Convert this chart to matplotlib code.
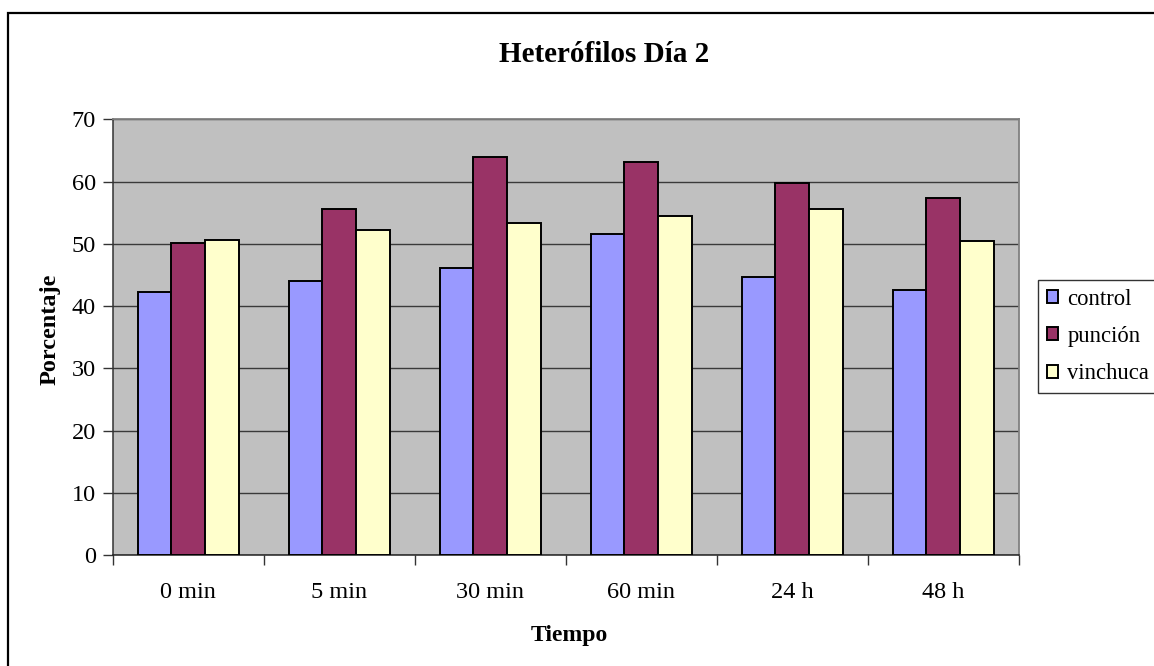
import numpy as np
import matplotlib
matplotlib.use("Agg")
import matplotlib.pyplot as plt
from matplotlib.patches import Rectangle

# Data
categories = ["0 min", "5 min", "30 min", "60 min", "24 h", "48 h"]
series_names = ["control", "punción", "vinchuca"]
control = [42.3, 44.0, 46.1, 51.6, 44.7, 42.6]
puncion = [50.1, 55.6, 64.0, 63.1, 59.7, 57.4]
vinchuca = [50.7, 52.2, 53.3, 54.5, 55.6, 50.4]
y_ticks = [0, 10, 20, 30, 40, 50, 60, 70]

colors = ["#9999FF", "#993366", "#FFFFCC"]

plt.rcParams["font.family"] = ["Liberation Serif", "DejaVu Serif"]

W, H = 1154, 666
fig = plt.figure(figsize=(W / 100, H / 100), dpi=100)
fig.patch.set_facecolor("white")

# Chart-area border (extends off the right and bottom edges)
fig.patches.append(Rectangle((8 / W, -0.1), 1.2, (H - 12.5) / H + 0.1,
                             transform=fig.transFigure, fill=False,
                             edgecolor="#000000", linewidth=1.6, zorder=0))

ax_l, ax_r, ax_t, ax_b = 112.7, 1018.7, 119.3, 555.3
ax = fig.add_axes([ax_l / W, 1 - ax_b / H, (ax_r - ax_l) / W, (ax_b - ax_t) / H])
ax.set_facecolor("#C0C0C0")

n = len(categories)
x = np.arange(n)
bw = 1 / 4.5
for i, (vals, name, c) in enumerate(zip([control, puncion, vinchuca], series_names, colors)):
    ax.bar(x + (i - 1) * bw, vals, width=bw, color=c, edgecolor="black",
           linewidth=1.4, label=name, zorder=3)

ax.set_xlim(-0.5, n - 0.5)
ax.set_ylim(0, 70)

# Gridlines
ax.set_yticks(y_ticks)
ax.yaxis.grid(True, color="#3a3a3a", linewidth=1.0, zorder=1)
ax.set_axisbelow(True)

# Category labels at centres, tick marks at boundaries
ax.set_xticks(x)
ax.set_xticklabels(categories)
ax.set_xticks(np.arange(-0.5, n, 1.0), minor=True)
ax.tick_params(axis="x", which="major", length=0, pad=19, labelsize=17.5)
ax.tick_params(axis="x", which="minor", length=7, width=1.0, direction="out", color="#333333")
ax.tick_params(axis="y", length=7, width=1.0, direction="out", color="#333333",
               pad=5, labelsize=17.5)

for s in ["top", "right"]:
    ax.spines[s].set_color("#808080")
    ax.spines[s].set_linewidth(1.3)
ax.spines["left"].set_color("#333333")
ax.spines["bottom"].set_color("#222222")
ax.spines["left"].set_linewidth(1.1)
ax.spines["bottom"].set_linewidth(1.1)

# Titles
fig.text(604 / W, 1 - 62 / H, "Heterófilos Día 2", ha="center", va="baseline",
         fontsize=21, fontweight="bold")
fig.text(569 / W, 1 - 641 / H, "Tiempo", ha="center", va="baseline",
         fontsize=17, fontweight="bold")
fig.text(50 / W, 1 - 329 / H, "Porcentaje", ha="center", va="center",
         rotation=90, fontsize=17.5, fontweight="bold")

# Legend
leg = fig.legend(loc="upper left", bbox_to_anchor=(1038 / W, 1 - 280 / H),
                 frameon=True, fancybox=False, fontsize=16.3,
                 handlelength=0.5, handleheight=0.5, handletextpad=0.42,
                 borderpad=0.38, labelspacing=0.72, borderaxespad=0)
leg.get_frame().set_edgecolor("black")
leg.get_frame().set_linewidth(1.0)

fig.savefig("out.png", dpi=100)
